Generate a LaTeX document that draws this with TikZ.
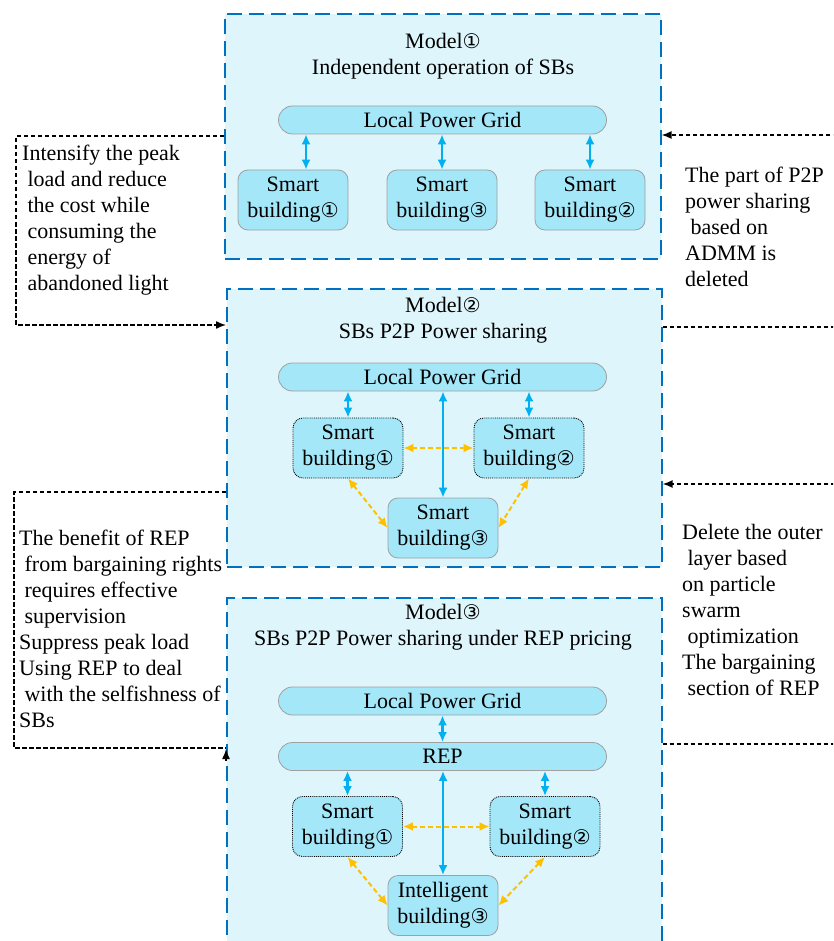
\documentclass[tikz,border=0pt]{standalone}
\usepackage{fontspec}
\setmainfont{Liberation Serif}
\newfontfamily\circfont[Scale=0.92]{DejaVu Sans}
\usetikzlibrary{arrows.meta}
\newcommand\circA{{\circfont ①}}
\newcommand\circB{{\circfont ②}}
\newcommand\circC{{\circfont ③}}
\newcommand\lsp{\hspace*{5.4pt}}
\definecolor{boxfill}{HTML}{DDF5FB}
\definecolor{boxblue}{HTML}{0070C0}
\definecolor{unitfill}{HTML}{A3E7F8}
\definecolor{unitline}{HTML}{A0A0A0}
\definecolor{linkblue}{HTML}{00B0F0}
\definecolor{linkorange}{HTML}{FFC000}
\begin{document}
\begin{tikzpicture}[x=1pt,y=-1pt,
  every node/.style={font=\fontsize{22pt}{26pt}\selectfont},
  modelbox/.style={draw=boxblue, fill=boxfill, line width=1.6pt, dash pattern=on 15pt off 7pt, anchor=north west, inner sep=0pt},
  unit/.style={draw=unitline, fill=unitfill, line width=0.8pt, rounded corners=10pt, minimum width=110pt, minimum height=60pt, align=center, inner sep=1pt},
  dotunit/.style={unit, draw=black, line width=0.9pt, densely dotted},
  gridbar/.style={draw=unitline, fill=unitfill, line width=0.8pt, rounded corners=14pt, minimum width=328pt, minimum height=28pt, inner sep=0pt},
  blink/.style={draw=linkblue, line width=2.2pt, {Latex[length=10pt,width=9pt]}-{Latex[length=10pt,width=9pt]}},
  olink/.style={draw=linkorange, line width=2pt, dash pattern=on 5pt off 3pt, {Latex[length=10pt,width=9pt]}-{Latex[length=10pt,width=9pt]}},
  note/.style={align=left, anchor=north west, inner sep=0pt},
  conn/.style={draw=black, line width=1.4pt, dash pattern=on 4.5pt off 2.5pt, -{Latex[length=10pt,width=8pt]}}
]
\clip (0,0) rectangle (833,941);
\fill[white] (0,0) rectangle (833,941);

% model boxes
\node[modelbox, minimum width=436pt, minimum height=245pt] (m1) at (224,13) {};
\node[modelbox, minimum width=435pt, minimum height=278pt] (m2) at (226,288) {};
\node[modelbox, minimum width=435pt, minimum height=370pt] (m3) at (226,597) {};

% titles
\node[align=center] (t1) at (443,56) {Model\circA\\Independent operation of SBs};
\node[align=center] (t2) at (443,320) {Model\circB\\SBs P2P Power sharing};
\node[align=center] (t3) at (443,627) {Model\circC\\SBs P2P Power sharing under REP pricing};

% model 1
\node[gridbar] (g1) at (442.5,120) {Local Power Grid};
\node[unit] (s11) at (293,200) {Smart\\building\circA};
\node[unit] (s13) at (442,200) {Smart\\building\circC};
\node[unit] (s12) at (590,200) {Smart\\building\circB};
\draw[blink] (g1.south -| 306,0) -- (s11.north -| 306,0);
\draw[blink] (g1.south -| s13.north) -- (s13.north);
\draw[blink] (g1.south -| s12.north) -- (s12.north);

% model 2
\node[gridbar] (g2) at (442.5,377) {Local Power Grid};
\node[dotunit] (s21) at (348,448) {Smart\\building\circA};
\node[dotunit] (s22) at (529,448) {Smart\\building\circB};
\node[unit] (s23) at (443,528) {Smart\\building\circC};
\draw[blink] (g2.south -| s21.north) -- (s21.north);
\draw[blink] (g2.south -| s22.north) -- (s22.north);
\draw[blink] (g2.south -| s23.north) -- (s23.north);
\draw[olink] (s21.east) -- (s22.west);
\draw[olink] (s21.south) -- (s23.west);
\draw[olink] (s22.south) -- (s23.east);

% model 3
\node[gridbar] (g3) at (442.5,701) {Local Power Grid};
\node[gridbar] (r3) at (442.5,756.5) {REP};
\node[dotunit] (s31) at (347.5,826.5) {Smart\\building\circA};
\node[dotunit] (s32) at (545,826.5) {Smart\\building\circB};
\node[unit] (s33) at (443,905.5) {Intelligent\\building\circC};
\draw[blink] (g3.south) -- (r3.north);
\draw[blink] (r3.south -| s31.north) -- (s31.north);
\draw[blink] (r3.south -| s32.north) -- (s32.north);
\draw[blink] (r3.south -| s33.north) -- (s33.north);
\draw[olink] (s31.east) -- (s32.west);
\draw[olink] (s31.south) -- (s33.west);
\draw[olink] (s32.south) -- (s33.east);

% side notes
\node[note] (n1) at (22,145) {Intensify the peak\\\lsp load and reduce\\\lsp the cost while\\\lsp consuming the\\\lsp energy of\\\lsp abandoned light};
\node[note] (n2) at (685,167) {The part of P2P\\power sharing\\\lsp based on\\ADMM is\\deleted};
\node[note] (n3) at (19,530) {The benefit of REP\\\lsp from bargaining rights\\\lsp requires effective\\\lsp supervision\\Suppress peak load\\Using REP to deal\\\lsp with the selfishness of\\SBs};
\node[note] (n4) at (682,524) {Delete the outer\\\lsp layer based\\on particle\\swarm\\\lsp optimization\\The bargaining\\\lsp section of REP};

% feedback connectors
\draw[conn] (m1.west |- 0,136) -- (16,136) -- (16,325) -- (m2.west |- 0,325);
\draw[conn] (m2.east |- 0,327) -- (850,327) -- (850,135) -- (m1.east |- 0,135);
\draw[conn] (m3.east |- 0,744) -- (850,744) -- (850,484) -- (m2.east |- 0,484);
\draw[conn] (m2.west |- 0,492) -- (14,492) -- (14,748) -- (m3.west |- 0,748) ++(0,13) -- ++(0,-12);
\end{tikzpicture}
\end{document}
